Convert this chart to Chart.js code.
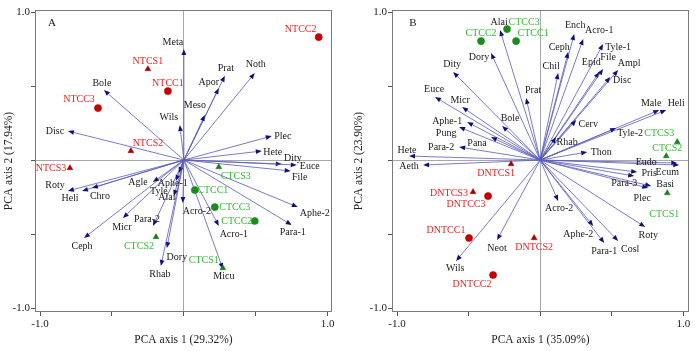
<!DOCTYPE html>
<html>
<head>
<meta charset="utf-8">
<script src="https://cdn.jsdelivr.net/npm/chart.js@4.4.1/dist/chart.umd.min.js"></script>
<style>
  body { margin: 0; background: #fff; }
  #wrap { position: relative; width: 700px; height: 351px; }
  canvas { position: absolute; top: 0; }
  #chartA { left: 0; }
  #chartB { left: 350px; }
</style>
</head>
<body>
<div id="wrap">
  <canvas id="chartA" width="350" height="351"></canvas>
  <canvas id="chartB" width="350" height="351"></canvas>
</div>
<script>
// ---- panel A : taxa loadings ----
const varsA = ['Meta','Prat','Apor','Noth','Bole','Meso','Wils','Disc','Plec','Hete','Dity','Euce','File','Aphe-2','Para-1','Acro-1','Acro-2','Micu','Rhab','Dory','Ceph','Micr','Para-2','Roty','Heli','Chro','Agle','Tyle','Aphe-1','Alai'];
const varAx = [0.00, 0.285, 0.243, 0.493, -0.556, 0.146, -0.028, -0.806, 0.611, 0.542, 0.681, 0.785, 0.743, 0.792, 0.75, 0.243, -0.007, 0.271, -0.16, -0.118, -0.694, -0.424, -0.215, -0.806, -0.708, -0.639, -0.215, -0.056, -0.035, -0.069];
const varAy = [0.75, 0.57, 0.486, 0.588, 0.473, 0.304, 0.236, 0.196, 0.162, 0.061, -0.027, -0.034, -0.074, -0.318, -0.439, -0.446, -0.29, -0.736, -0.716, -0.595, -0.527, -0.392, -0.446, -0.209, -0.209, -0.189, -0.149, -0.142, -0.088, -0.243];
// panel A : samples
const samplesA = ['NTCC2','NTCS1','NTCC1','NTCC3','NTCS2','NTCS3','CTCS3','CTCC1','CTCC3','CTCC2','CTCS2','CTCS1'];
const sampleAx = [0.9375, -0.25, -0.111, -0.597, -0.368, -0.792, 0.243, 0.076, 0.215, 0.493, -0.194, 0.271];
const sampleAy = [0.831, 0.615, 0.466, 0.351, 0.061, -0.054, -0.047, -0.203, -0.318, -0.412, -0.52, -0.73];

// ---- panel B : taxa loadings ----
const varsB = ['Alai','Dory','Dity','Euce','Micr','Bole','Prat','Aphe-1','Pung','Pana','Para-2','Hete','Aeth','Ench','Acro-1','Ceph','Chil','Tyle-1','Epid','File','Ampl','Disc','Cerv','Rhab','Thon','Male','Heli','Tyle-2','Eudo','Ecum','Pris','Para-3','Basi','Plec','Roty','Cosl','Para-1','Aphe-2','Acro-2','Neot','Wils'];
const varBx = [-0.28, -0.343, -0.608, -0.734, -0.545, -0.266, -0.098, -0.51, -0.566, -0.343, -0.566, -0.916, -0.818, 0.238, 0.301, 0.196, 0.126, 0.44, 0.413, 0.44, 0.545, 0.49, 0.252, 0.112, 0.329, 0.832, 0.881, 0.531, 0.958, 0.972, 0.678, 0.657, 0.776, 0.755, 0.734, 0.545, 0.448, 0.371, 0.126, -0.301, -0.587];
const varBy = [0.878, 0.723, 0.595, 0.426, 0.358, 0.23, 0.419, 0.257, 0.223, 0.155, 0.088, 0.027, -0.034, 0.851, 0.818, 0.73, 0.588, 0.784, 0.595, 0.615, 0.608, 0.561, 0.27, 0.155, 0.054, 0.338, 0.338, 0.216, -0.02, -0.034, -0.081, -0.108, -0.176, -0.189, -0.453, -0.547, -0.561, -0.446, -0.277, -0.541, -0.682];
// panel B : samples
const samplesB = ['CTCC3','CTCC2','CTCC1','CTCS3','CTCS2','CTCS1','DNTCS1','DNTCS3','DNTCC3','DNTCC1','DNTCS2','DNTCC2'];
const sampleBx = [-0.231, -0.413, -0.168, 0.958, 0.881, 0.888, -0.203, -0.469, -0.364, -0.497, -0.042, -0.329];
const sampleBy = [0.885, 0.804, 0.804, 0.122, 0.027, -0.223, -0.027, -0.216, -0.243, -0.527, -0.527, -0.777];

const axisTicks = [-1, -0.5, 0, 0.5, 1];

// label nudges (pixels from the arrow tip / marker)
const nudgeVarA = {
  'Meta':[-11,-7],'Prat':[1,-7],'Apor':[-10,-6],'Noth':[1,-9],'Bole':[-2,-7],'Meso':[-10,-10],'Wils':[-11,-8],
  'Disc':[-13,0],'Plec':[11,0],'Hete':[11,1],'Dity':[11,-6],'Euce':[13,1],'File':[9,6],'Aphe-2':[17,6],
  'Para-1':[1,7],'Acro-1':[15,8],'Acro-2':[14,8],'Micu':[1,7],'Rhab':[-1,8],'Dory':[10,9],'Ceph':[-2,8],
  'Micr':[-1,9],'Para-2':[-6,-7],'Roty':[-13,-6],'Heli':[-12,7],'Chro':[8,8],'Agle':[-15,0],'Tyle':[-17,10],
  'Aphe-1':[-6,10],'Alai':[-7,1]
};
const nudgeSampleA = {
  'NTCC2':[-18,-8],'NTCS1':[0,-8],'NTCC1':[0,-8],'NTCC3':[-19,-9],'NTCS2':[17,-8],'NTCS3':[-19,0],
  'CTCS3':[17,9],'CTCC1':[18,0],'CTCC3':[20,0],'CTCC2':[-18,0],'CTCS2':[-17,9],'CTCS1':[-19,-8]
};
const nudgeVarB = {
  'Alai':[-1,-8],'Dory':[-12,4],'Dity':[-1,-8],'Euce':[-1,-8],'Micr':[-2,-7],'Bole':[8,-8],'Prat':[7,-8],
  'Aphe-1':[-20,-1],'Pung':[-13,6],'Pana':[-14,6],'Para-2':[-18,0],'Hete':[-2,-6],'Aeth':[-14,1],
  'Ench':[1,-9],'Acro-1':[16,-9],'Ceph':[-9,-5],'Chil':[-7,-7],'Tyle-1':[15,3],'Epid':[-8,-10],'File':[5,-12],
  'Ampl':[11,-7],'Disc':[12,3],'Cerv':[12,4],'Rhab':[11,5],'Thon':[14,0],'Male':[-8,-7],'Heli':[10,-7],
  'Tyle-2':[14,5],'Eudo':[-31,-1],'Ecum':[-12,7],'Pris':[12,1],'Para-3':[-10,7],'Basi':[14,-2],'Plec':[-6,10],
  'Roty':[3,8],'Cosl':[12,8],'Para-1':[0,8],'Aphe-2':[-15,8],'Acro-2':[1,7],'Neot':[0,8],'Wils':[-1,7]
};
const nudgeSampleB = {
  'CTCC3':[17,-7],'CTCC2':[0,-8],'CTCC1':[17,-8],'CTCS3':[-18,-9],'CTCS2':[1,-8],'CTCS1':[-3,21],
  'DNTCS1':[-15,9],'DNTCS3':[-24,1],'DNTCC3':[-22,8],'DNTCC1':[-23,-8],'DNTCS2':[0,9],'DNTCC2':[-21,9]
};

const SERIF = "'Liberation Serif', 'Times New Roman', serif";
const RED_LBL = '#f01e1e', GREEN_LBL = '#34b834';

function isGreen(n) { return n.startsWith('CT'); }

function sampleSets(names, xs, ys) {
  const groups = [
    { green: false, cc: true,  color: '#c40000' },
    { green: false, cc: false, color: '#a80000' },
    { green: true,  cc: true,  color: '#1c8a1c' },
    { green: true,  cc: false, color: '#1f7a1f' }
  ];
  return groups.map(g => {
    const pts = [];
    names.forEach((n, i) => {
      if (isGreen(n) === g.green && n.includes('CC') === g.cc) pts.push({ x: xs[i], y: ys[i] });
    });
    return {
      data: pts,
      pointStyle: g.cc ? 'circle' : 'triangle',
      pointRadius: g.cc ? 3.6 : 3.4,
      backgroundColor: g.color,
      borderColor: g.color,
      borderWidth: 0.5
    };
  });
}

const biplot = {
  id: 'biplot',
  beforeDatasetsDraw(chart, args, o) {
    const ctx = chart.ctx, sx = chart.scales.x, sy = chart.scales.y;
    const ox = sx.getPixelForValue(0), oy = sy.getPixelForValue(0);
    ctx.save();
    o.vars.forEach((n, i) => {
      const tx = sx.getPixelForValue(o.vx[i]), ty = sy.getPixelForValue(o.vy[i]);
      const ang = Math.atan2(ty - oy, tx - ox);
      const hl = 6, hw = 2.4;
      const bx = tx - hl * Math.cos(ang), by = ty - hl * Math.sin(ang);
      ctx.strokeStyle = 'rgba(92,92,190,0.9)';
      ctx.lineWidth = 0.9;
      ctx.beginPath();
      ctx.moveTo(ox, oy);
      ctx.lineTo(bx, by);
      ctx.stroke();
      ctx.fillStyle = '#10107a';
      ctx.beginPath();
      ctx.moveTo(tx, ty);
      ctx.lineTo(bx + hw * Math.sin(ang), by - hw * Math.cos(ang));
      ctx.lineTo(bx - hw * Math.sin(ang), by + hw * Math.cos(ang));
      ctx.closePath();
      ctx.fill();
    });
    ctx.restore();
  },
  afterDatasetsDraw(chart, args, o) {
    const ctx = chart.ctx, sx = chart.scales.x, sy = chart.scales.y, a = chart.chartArea;
    ctx.save();
    ctx.textAlign = 'center';
    ctx.textBaseline = 'middle';
    ctx.font = '10px ' + SERIF;
    ctx.fillStyle = '#1a1a1a';
    o.vars.forEach((n, i) => {
      const d = o.nudge[n] || [0, -8];
      ctx.fillText(n, sx.getPixelForValue(o.vx[i]) + d[0], sy.getPixelForValue(o.vy[i]) + d[1]);
    });
    o.samples.forEach((n, i) => {
      const d = o.snudge[n] || [0, -8];
      ctx.fillStyle = isGreen(n) ? GREEN_LBL : RED_LBL;
      ctx.fillText(n, sx.getPixelForValue(o.sx[i]) + d[0], sy.getPixelForValue(o.sy[i]) + d[1]);
    });
    // panel letter
    ctx.fillStyle = '#1a1a1a';
    ctx.font = '11px ' + SERIF;
    ctx.fillText(o.letter, a.left + o.letterDx, a.top + 13);
    // frame
    ctx.strokeStyle = '#7a7a7a';
    ctx.lineWidth = 1;
    ctx.strokeRect(a.left + 0.5, a.top + 0.5, a.right - a.left - 1, a.bottom - a.top - 1);
    ctx.restore();
  }
};

function axis(min, max, title, fixedSize, isY) {
  return {
    type: 'linear',
    min: min,
    max: max,
    afterBuildTicks: s => { s.ticks = axisTicks.map(v => ({ value: v })); },
    afterFit: s => { if (isY) s.width = fixedSize; else s.height = fixedSize; },
    ticks: {
      autoSkip: false,
      maxRotation: 0,
      padding: isY ? 1 : 2,
      color: '#222',
      font: { family: SERIF, size: 11 },
      callback: v => (v === -1 ? '-1.0' : v === 1 ? '1.0' : '')
    },
    grid: {
      drawOnChartArea: true,
      color: c => (c.tick && c.tick.value === 0 ? '#a8a8a8' : 'rgba(0,0,0,0)'),
      tickColor: '#555',
      tickLength: 4,
      lineWidth: 1
    },
    border: { display: false },
    title: {
      display: true,
      text: title,
      color: '#222',
      font: { family: SERIF, size: 11.5 },
      padding: { top: 2, bottom: 4 }
    }
  };
}

function makeChart(id, cfg) {
  return new Chart(document.getElementById(id), {
    type: 'scatter',
    data: { datasets: sampleSets(cfg.samples, cfg.sx, cfg.sy) },
    options: {
      responsive: false,
      animation: false,
      layout: { padding: cfg.padding },
      plugins: {
        legend: { display: false },
        tooltip: { enabled: false },
        biplot: cfg
      },
      scales: {
        x: axis(cfg.xmin, cfg.xmax, cfg.xTitle, 39, false),
        y: axis(-1.027, 1.014, cfg.yTitle, cfg.yWidth, true)
      }
    },
    plugins: [biplot]
  });
}

makeChart('chartA', {
  vars: varsA, vx: varAx, vy: varAy, nudge: nudgeVarA,
  samples: samplesA, sx: sampleAx, sy: sampleAy, snudge: nudgeSampleA,
  letter: 'A', letterDx: 17,
  xmin: -1.035, xmax: 1.03, yWidth: 35,
  padding: { left: 0, right: 18, top: 10, bottom: 0 },
  xTitle: 'PCA axis 1 (29.32%)', yTitle: 'PCA axis 2 (17.94%)'
});

makeChart('chartB', {
  vars: varsB, vx: varBx, vy: varBy, nudge: nudgeVarB,
  samples: samplesB, sx: sampleBx, sy: sampleBy, snudge: nudgeSampleB,
  letter: 'B', letterDx: 21,
  xmin: -1.035, xmax: 1.04, yWidth: 42,
  padding: { left: 0, right: 11, top: 10, bottom: 0 },
  xTitle: 'PCA axis 1 (35.09%)', yTitle: 'PCA axis 2 (23.90%)'
});
</script>
</body>
</html>
